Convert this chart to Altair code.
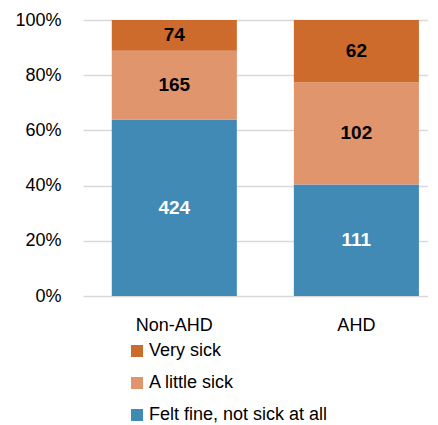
import altair as alt
import pandas as pd

categories = ["Non-AHD", "AHD"]
statuses = ["Felt fine, not sick at all", "A little sick", "Very sick"]
felt_fine = [424, 111]
little_sick = [165, 102]
very_sick = [74, 62]

colors = {"Very sick": "#cc6b2c", "A little sick": "#e1956c", "Felt fine, not sick at all": "#418ab5"}

rows = []
for i, c in enumerate(categories):
    for j, (s, vals) in enumerate(zip(statuses, [felt_fine, little_sick, very_sick])):
        rows.append({"category": c, "status": s, "count": vals[i], "order": j,
                     "tcolor": "white" if j == 0 else "black"})
df = pd.DataFrame(rows)

font = "Liberation Sans"
legend_order = ["Very sick", "A little sick", "Felt fine, not sick at all"]

x = alt.X("category:N", sort=categories, title=None,
          scale=alt.Scale(paddingInner=0.313, paddingOuter=0.104, align=0.76),
          axis=alt.Axis(labelAngle=0, labelFontSize=18, labelFont=font, labelColor="#000000",
                        ticks=False, domain=False, labelPadding=20))

bars = alt.Chart(df).mark_bar().encode(
    x=x,
    y=alt.Y("count:Q", stack="normalize", title=None,
            scale=alt.Scale(domain=[0, 1], nice=False),
            axis=alt.Axis(format="%", values=[0, 0.2, 0.4, 0.6, 0.8, 1.0], labelFontSize=18,
                          labelFont=font, labelColor="#000000", ticks=False, domain=False,
                          gridColor="#d9d9d9", gridWidth=1.5, labelPadding=22)),
    color=alt.Color("status:N", scale=alt.Scale(domain=legend_order, range=[colors[s] for s in legend_order]),
                    legend=alt.Legend(title=None, orient="none", legendX=45, legendY=322,
                                      symbolType="square", symbolSize=144, symbolStrokeWidth=0,
                                      labelFontSize=18, labelFont=font, labelColor="#000000",
                                      labelLimit=400, rowPadding=14, labelOffset=3)),
    order=alt.Order("order:Q"),
)

text = alt.Chart(df).transform_stack(
    stack="count", groupby=["category"], as_=["y0", "y1"], offset="normalize",
    sort=[alt.SortField("order", order="ascending")]
).transform_calculate(mid="(datum.y0 + datum.y1) / 2").mark_text(
    fontSize=19, fontWeight="bold", font=font
).encode(
    x=alt.X("category:N", sort=categories),
    y=alt.Y("mid:Q"),
    text="count:Q",
    color=alt.Color("tcolor:N", scale=None),
)

chart = (bars + text).properties(
    width=345, height=276,
    autosize=alt.AutoSizeParams(type="none"),
    padding={"left": 75, "top": 12, "right": 0, "bottom": 128},
).configure_view(stroke=None)

chart.save("out.html", embed_options={"renderer": "svg", "actions": False})
